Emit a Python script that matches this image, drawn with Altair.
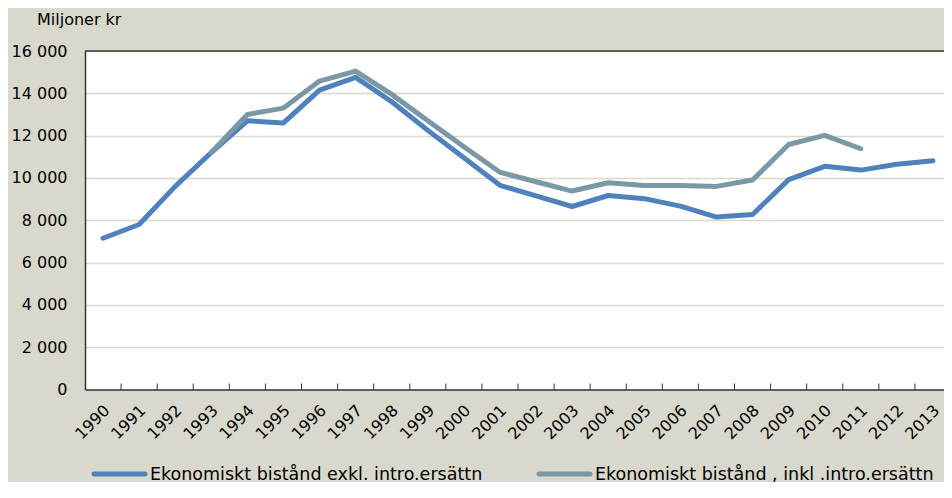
import altair as alt
import pandas as pd

# ---- data ----
years = [str(y) for y in range(1990, 2014)]
exkl = [7150, 7800, 9600, 11200, 12700, 12600, 14150, 14750, 13600, 12250,
        10950, 9650, 9150, 8650, 9170, 9020, 8670, 8150, 8270, 9920,
        10550, 10370, 10650, 10810]
inkl = [None, None, None, 11200, 13000, 13300, 14580, 15050, 13950, 12700,
        11470, 10270, 9820, 9380, 9770, 9640, 9640, 9600, 9900, 11580,
        12010, 11380, None, None]
series_names = ["Ekonomiskt bistånd exkl. intro.ersättn",
                "Ekonomiskt bistånd , inkl .intro.ersättn"]
y_ticks = list(range(0, 16001, 2000))
unit_label = "Miljoner kr"

# ---- styling ----
BLUE = "#4f81bd"
GRAY = "#7b98a7"
BG = "#d9d8cc"
DARK = "#333333"
FONT = "DejaVu Sans"
W_PLOT = 866
H = 338.5
PAD_TOP = 43
PAD_BOTTOM = 92.5
PAD_LEFT = 77
PAD_RIGHT = -7   # plot area runs past the right edge, as in the reference

df_exkl = pd.DataFrame({"year": years, "value": exkl, "series": series_names[0]})
df_inkl = pd.DataFrame({"year": years, "value": inkl, "series": series_names[1]}).dropna()

x_scale = alt.Scale(type="band", domain=years, paddingInner=0, paddingOuter=0)
y_scale = alt.Scale(domain=[0, 16000], nice=False)

x_axis = alt.Axis(labelAngle=-45, labelAlign="right", labelBaseline="middle",
                  labelPadding=18, labelOffset=4, ticks=False, grid=False,
                  domainColor=DARK, domainWidth=1.5, labelFontSize=16,
                  labelColor="black", labelFont=FONT, title=None)
y_axis = alt.Axis(values=y_ticks, ticks=False, labelPadding=18,
                  labelExpr="replace(format(datum.value, ',d'), ',', ' ')",
                  domainColor=DARK, domainWidth=1.5, gridColor="#dcd8cc",
                  gridWidth=1.5, labelFontSize=16, labelColor="black",
                  labelFont=FONT, title=None)

line_exkl = alt.Chart(df_exkl).mark_line(
    strokeWidth=5, strokeCap="round", strokeJoin="round", color=BLUE
).encode(
    x=alt.X("year:O", scale=x_scale, axis=x_axis, bandPosition=0.5),
    y=alt.Y("value:Q", scale=y_scale, axis=y_axis),
)

line_inkl = alt.Chart(df_inkl).mark_line(
    strokeWidth=5, strokeCap="round", strokeJoin="round", color=GRAY
).encode(
    x=alt.X("year:O", scale=x_scale, title=None, bandPosition=0.5),
    y=alt.Y("value:Q", scale=y_scale, title=None),
)

ticks_df = pd.DataFrame({"year": years[1:]})
tick_rules = alt.Chart(ticks_df).mark_rule(color=DARK, strokeWidth=1).encode(
    x=alt.X("year:O", scale=x_scale, title=None, bandPosition=0),
    y=alt.value(H),
    y2=alt.value(H - 6),
)

one = pd.DataFrame({"a": [0]})
top_border = alt.Chart(one).mark_rule(color=DARK, strokeWidth=1.5).encode(
    x=alt.value(0), x2=alt.value(W_PLOT), y=alt.value(0)
)

unit_text = alt.Chart(pd.DataFrame({"t": [unit_label]})).mark_text(
    align="left", baseline="middle", fontSize=16, font=FONT, color="black"
).encode(text="t:N", x=alt.value(-48), y=alt.value(-31.5))

LEG_BASE = H + PAD_BOTTOM - 2.5
LEG_Y = LEG_BASE - 5.5
leg_line1 = alt.Chart(one).mark_rule(color=BLUE, strokeWidth=5, strokeCap="round").encode(
    x=alt.value(9), x2=alt.value(60), y=alt.value(LEG_Y))
leg_line2 = alt.Chart(one).mark_rule(color=GRAY, strokeWidth=5, strokeCap="round").encode(
    x=alt.value(454), x2=alt.value(505), y=alt.value(LEG_Y))
leg_text1 = alt.Chart(pd.DataFrame({"t": [series_names[0]]})).mark_text(
    align="left", baseline="alphabetic", fontSize=17.5, font=FONT, color="black"
).encode(text="t:N", x=alt.value(65), y=alt.value(LEG_BASE))
leg_text2 = alt.Chart(pd.DataFrame({"t": [series_names[1]]})).mark_text(
    align="left", baseline="alphabetic", fontSize=17.5, font=FONT, color="black"
).encode(text="t:N", x=alt.value(510), y=alt.value(LEG_BASE))

chart = alt.layer(
    line_exkl, line_inkl, tick_rules, top_border, unit_text,
    leg_line1, leg_line2, leg_text1, leg_text2
).properties(
    width=W_PLOT, height=H,
    autosize=alt.AutoSizeParams(type="none"),
    padding={"left": PAD_LEFT, "top": PAD_TOP, "right": PAD_RIGHT, "bottom": PAD_BOTTOM},
    background=BG,
).configure_view(
    fill="white", stroke=None
)

chart.save("out.html", embed_options={"renderer": "svg", "actions": False})
